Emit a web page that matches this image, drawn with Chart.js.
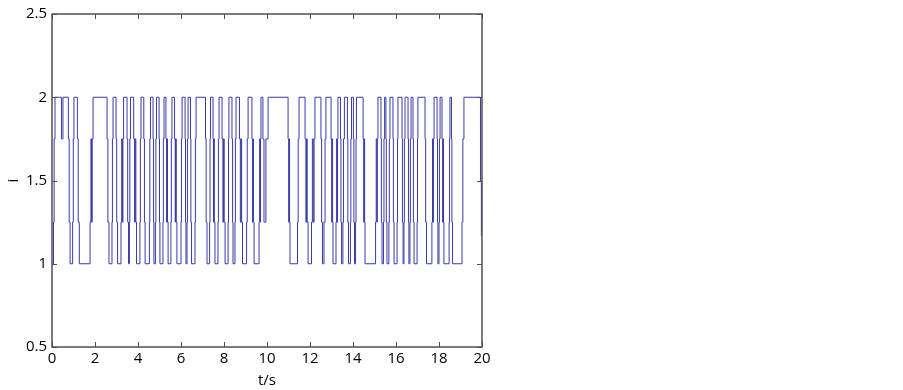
<!DOCTYPE html>
<html>
<head>
<meta charset="utf-8">
<script src="https://cdn.jsdelivr.net/npm/chart.js@4.4.0/dist/chart.umd.min.js"></script>
<style>
  body { margin: 0; background: #fff; }
</style>
</head>
<body>
<canvas id="grafico" width="903" height="390"></canvas>
<script>
// instantes de troca (s), uma transicao por linha
const tempos = [
    0,
    0.07, 0.10, 0.14,
    0.44, 0.51,
    0.76, 0.80, 0.84,
    0.96, 0.99, 1.02,
    1.18, 1.22, 1.27,
    1.77, 1.81, 1.84, 1.87, 1.91,
    2.56, 2.60, 2.65,
    2.79, 2.81, 2.84,
    2.98, 3.01, 3.05,
    3.21, 3.24, 3.27, 3.30, 3.33,
    3.49, 3.52, 3.56,
    3.60, 3.62, 3.65,
    3.80, 3.84, 3.87, 3.90, 3.93,
    4.09, 4.11, 4.14,
    4.27, 4.30, 4.33,
    4.53, 4.55, 4.58,
    4.70, 4.72, 4.74,
    4.81, 4.83, 4.86,
    4.98, 5.00, 5.02,
    5.16, 5.18, 5.21,
    5.30, 5.33, 5.35, 5.37, 5.40,
    5.53, 5.55, 5.58,
    5.70, 5.73, 5.75, 5.78, 5.81,
    6.00, 6.02, 6.05,
    6.19, 6.21, 6.23,
    6.28, 6.30, 6.33,
    6.44, 6.46, 6.49,
    6.65, 6.67, 6.70,
    7.14, 7.17, 7.21,
    7.33, 7.35, 7.37,
    7.49, 7.51, 7.53, 7.55, 7.58,
    7.72, 7.74, 7.77,
    7.91, 7.95, 7.98, 8.01, 8.05,
    8.19, 8.21, 8.23,
    8.37, 8.40, 8.42,
    8.51, 8.53, 8.56,
    8.72, 8.76, 8.79, 8.82, 8.86,
    9.05, 9.08, 9.12,
    9.30, 9.33, 9.35, 9.37, 9.40,
    9.63, 9.66, 9.68, 9.70, 9.72,
    9.81, 9.86, 9.95, 10.05,
    10.98, 11.01, 11.03, 11.05, 11.07,
    11.42, 11.45, 11.49,
    11.77, 11.81, 11.84, 11.87, 11.91,
    12.07, 12.11, 12.15, 12.19, 12.23,
    12.51, 12.54, 12.58,
    12.65, 12.70, 12.74,
    12.98, 13.01, 13.03, 13.05, 13.07,
    13.21, 13.24, 13.26, 13.28, 13.30,
    13.42, 13.44, 13.47,
    13.53, 13.56, 13.60,
    13.74, 13.76, 13.79,
    13.88, 13.90, 13.93,
    14.02, 14.04, 14.07,
    14.12, 14.14, 14.16,
    14.47, 14.50, 14.52, 14.54, 14.56,
    15.05, 15.08, 15.11, 15.13, 15.16,
    15.30, 15.32, 15.35,
    15.42, 15.44, 15.47,
    15.53, 15.55, 15.58,
    15.67, 15.69, 15.72,
    15.86, 15.88, 15.91,
    16.05, 16.07, 16.09,
    16.28, 16.30, 16.33,
    16.37, 16.39, 16.42,
    16.56, 16.58, 16.60,
    16.65, 16.67, 16.70,
    16.79, 16.81, 16.84,
    16.98, 17.00, 17.02,
    17.35, 17.38, 17.42,
    17.67, 17.70, 17.72, 17.74, 17.77,
    17.91, 17.93, 17.95,
    18.00, 18.02, 18.05,
    18.14, 18.17, 18.19, 18.21, 18.23,
    18.47, 18.49, 18.51,
    18.58, 18.60, 18.63,
    19.07, 19.11, 19.16,
    19.93, 19.97, 20
];
// nivel de i depois de cada instante, mesma disposicao
const correntes = [
    1,
    1.25, 1.75, 2,
    1.75, 2,
    1.75, 1.25, 1,
    1.25, 1.75, 2,
    1.75, 1.25, 1,
    1.25, 1.75, 1.25, 1.75, 2,
    1.75, 1.25, 1,
    1.25, 1.75, 2,
    1.75, 1.25, 1,
    1.25, 1.75, 1.25, 1.75, 2,
    1.75, 1.25, 1,
    1.25, 1.75, 2,
    1.75, 1.25, 1.75, 1.25, 1,
    1.25, 1.75, 2,
    1.75, 1.25, 1,
    1.25, 1.75, 2,
    1.75, 1.25, 1,
    1.25, 1.75, 2,
    1.75, 1.25, 1,
    1.25, 1.75, 2,
    1.75, 1.25, 1.75, 1.25, 1,
    1.25, 1.75, 2,
    1.75, 1.25, 1.75, 1.25, 1,
    1.25, 1.75, 2,
    1.75, 1.25, 1,
    1.25, 1.75, 2,
    1.75, 1.25, 1,
    1.25, 1.75, 2,
    1.75, 1.25, 1,
    1.25, 1.75, 2,
    1.75, 1.25, 1.75, 1.25, 1,
    1.25, 1.75, 2,
    1.75, 1.25, 1.75, 1.25, 1,
    1.25, 1.75, 2,
    1.75, 1.25, 1,
    1.25, 1.75, 2,
    1.75, 1.25, 1.75, 1.25, 1,
    1.25, 1.75, 2,
    1.75, 1.25, 1.75, 1.25, 1,
    1.25, 1.75, 1.25, 1.75, 2,
    1.75, 1.25, 1.75, 2,
    1.75, 1.25, 1.75, 1.25, 1,
    1.25, 1.75, 2,
    1.75, 1.25, 1.75, 1.25, 1,
    1.25, 1.75, 1.25, 1.75, 2,
    1.75, 1.25, 1,
    1.25, 1.75, 2,
    1.75, 1.25, 1.75, 1.25, 1,
    1.25, 1.75, 1.25, 1.75, 2,
    1.75, 1.25, 1,
    1.25, 1.75, 2,
    1.75, 1.25, 1,
    1.25, 1.75, 2,
    1.75, 1.25, 1,
    1.25, 1.75, 2,
    1.75, 1.25, 1.75, 1.25, 1,
    1.25, 1.75, 1.25, 1.75, 2,
    1.75, 1.25, 1,
    1.25, 1.75, 2,
    1.75, 1.25, 1,
    1.25, 1.75, 2,
    1.75, 1.25, 1,
    1.25, 1.75, 2,
    1.75, 1.25, 1,
    1.25, 1.75, 2,
    1.75, 1.25, 1,
    1.25, 1.75, 2,
    1.75, 1.25, 1,
    1.25, 1.75, 2,
    1.75, 1.25, 1,
    1.25, 1.75, 1.25, 1.75, 2,
    1.75, 1.25, 1,
    1.25, 1.75, 2,
    1.75, 1.25, 1.75, 1.25, 1,
    1.25, 1.75, 2,
    1.75, 1.25, 1,
    1.25, 1.75, 2,
    1.5, 1.17, 1.17
];

const ticksX = [0, 2, 4, 6, 8, 10, 12, 14, 16, 18, 20];
const ticksY = [0.5, 1, 1.5, 2, 2.5];

const fonte = { family: 'Open Sans', size: 15 };

// moldura fechada com marcas para dentro, estilo MATLAB
const moldura = {
    id: 'moldura',
    afterDraw(chart) {
        const ctx = chart.ctx;
        const a = chart.chartArea;
        const sx = chart.scales.x;
        const sy = chart.scales.y;
        ctx.save();
        ctx.strokeStyle = '#505050';
        ctx.lineWidth = 1.5;
        ctx.strokeRect(a.left, a.top, a.right - a.left, a.bottom - a.top);
        ctx.lineWidth = 1;
        ctx.beginPath();
        ticksX.forEach(v => {
            const px = Math.round(sx.getPixelForValue(v)) + 0.5;
            ctx.moveTo(px, a.bottom); ctx.lineTo(px, a.bottom - 5);
            ctx.moveTo(px, a.top); ctx.lineTo(px, a.top + 5);
        });
        ticksY.forEach(v => {
            const py = Math.round(sy.getPixelForValue(v)) + 0.5;
            ctx.moveTo(a.left, py); ctx.lineTo(a.left + 5, py);
            ctx.moveTo(a.right, py); ctx.lineTo(a.right - 5, py);
        });
        ctx.stroke();
        ctx.restore();
    }
};

const dados = {
    datasets: [{
        label: 'i',
        data: tempos.map((t, k) => ({ x: t, y: correntes[k] })),
        borderColor: '#3a3aa8',
        borderWidth: 1,
        pointRadius: 0,
        stepped: 'before', // segura o valor ate o proximo instante
        fill: false,
    }]
};

const config = {
    type: 'line',
    data: dados,
    options: {
        responsive: false,
        animation: false,
        devicePixelRatio: 1,
        layout: {
            padding: { left: 0, top: 9, right: 421, bottom: 0 }
        },
        plugins: {
            legend: { display: false },
            tooltip: { enabled: false }
        },
        scales: {
            x: {
                type: 'linear',
                min: 0,
                max: 20,
                afterBuildTicks: (s) => { s.ticks = ticksX.map(v => ({ value: v })); },
                afterFit: (s) => { s.height = 43; },
                grid: { display: false, drawTicks: false },
                border: { display: false },
                ticks: { color: '#000', font: fonte, padding: 3, maxRotation: 0 },
                title: { display: true, text: 't/s', color: '#000', font: fonte, padding: { top: 0, bottom: 0 } }
            },
            y: {
                type: 'linear',
                min: 0.5,
                max: 2.5,
                afterBuildTicks: (s) => { s.ticks = ticksY.map(v => ({ value: v })); },
                afterFit: (s) => { s.width = 52; },
                grid: { display: false, drawTicks: false },
                border: { display: false },
                ticks: { color: '#000', font: fonte, padding: 5, callback: (v) => String(v) },
                title: { display: true, text: 'i', color: '#000', font: fonte, padding: { top: 5, bottom: 0 } }
            }
        }
    },
    plugins: [moldura]
};

const ctx = document.getElementById('grafico').getContext('2d');
new Chart(ctx, config);
</script>
</body>
</html>
